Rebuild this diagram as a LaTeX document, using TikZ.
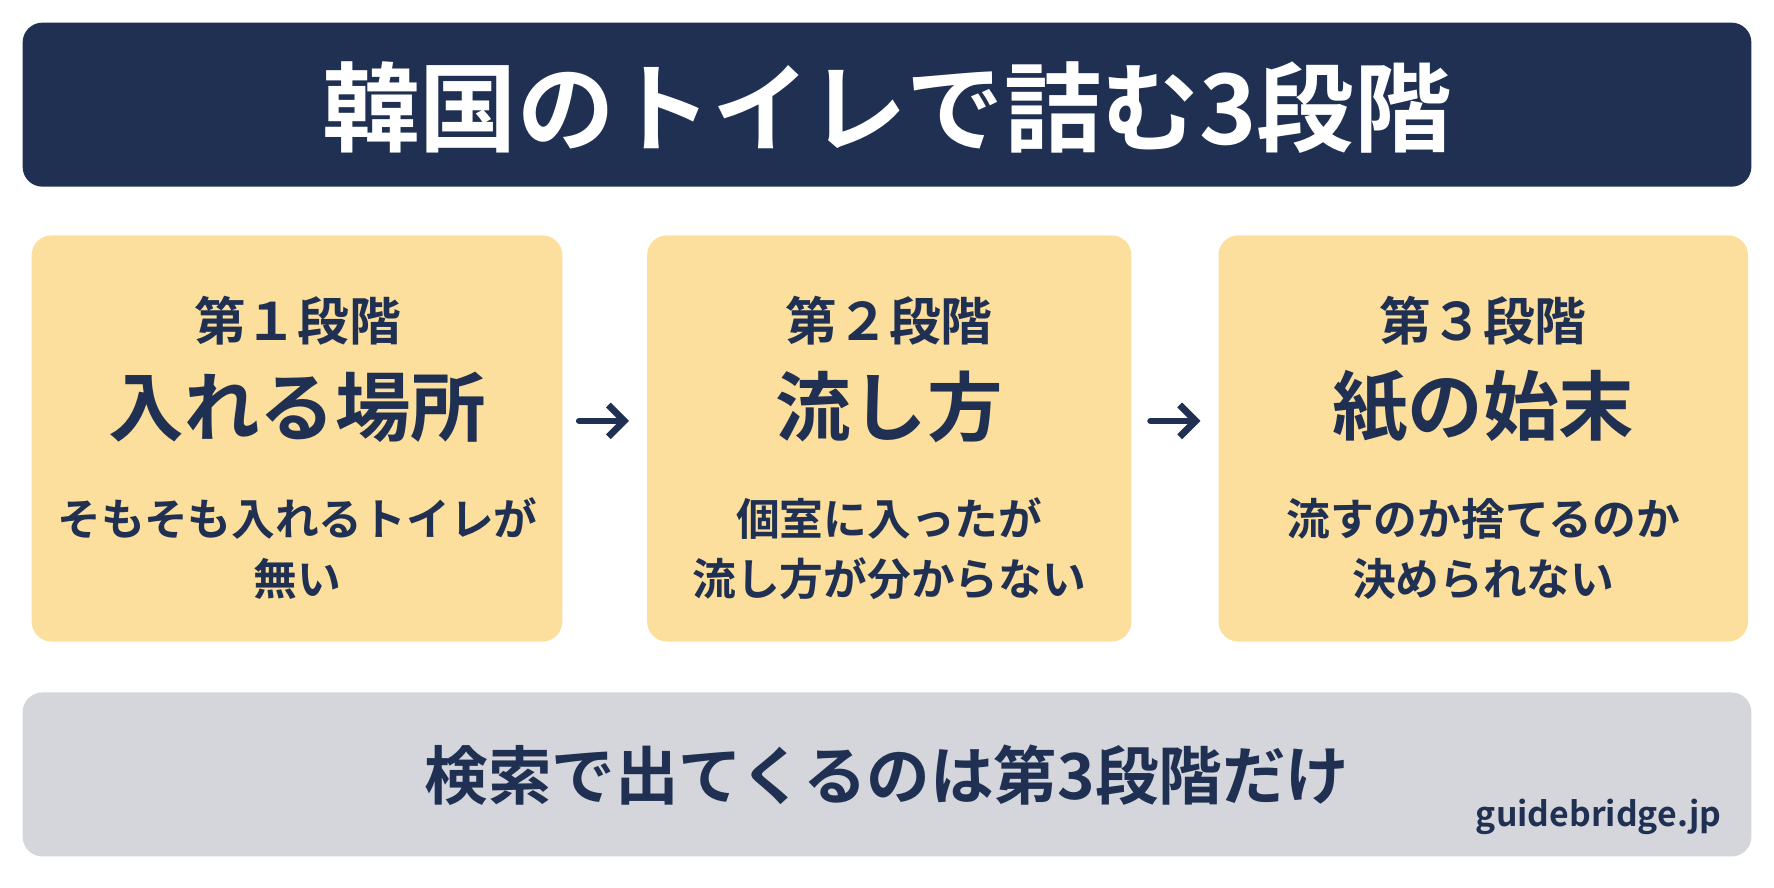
\documentclass[tikz,border=0pt]{standalone}
\usetikzlibrary{arrows.meta}
\usepackage{fontspec}
\setmainfont{Noto Sans CJK JP}[BoldFont={Noto Sans CJK JP Bold}]
\definecolor{navy}{HTML}{1F3052}
\definecolor{card}{HTML}{FCDF9C}
\definecolor{bar}{HTML}{D4D6DC}
\begin{document}
\begin{tikzpicture}[x=1cm,y=-1cm,
  fs/.style={font=\fontsize{#1}{#1}\selectfont\bfseries},
  cardbox/.style={fill=card,rounded corners=5pt,draw=none},
  stagelbl/.style={fs=13pt,text=navy},
  head/.style={fs=19pt,text=navy},
  desc/.style={text=navy,align=center,font=\fontsize{11pt}{15pt}\selectfont\bfseries},
  arr/.style={-{Straight Barb[length=4pt,width=8pt,line width=1.7pt]},line width=1.7pt,navy,line cap=round}]
\useasboundingbox[fill=white] (0,0) rectangle (15.68,7.84);
\fill[navy,rounded corners=5pt] (0.2,0.2) rectangle (15.48,1.65);
\node[fs=24.5pt,text=white] (title) at (7.84,0.95) {韓国のトイレで詰む3段階};
\fill[cardbox] (0.28,2.08) rectangle (4.97,5.67);
\fill[cardbox] (5.72,2.08) rectangle (10.0,5.67);
\fill[cardbox] (10.77,2.08) rectangle (15.45,5.67);
\node[stagelbl] (s1) at (2.63,2.83) {第１段階};
\node[head] (h1) at (2.63,3.6) {入れる場所};
\node[desc] (d1) at (2.63,4.85) {そもそも入れるトイレが\\無い};
\node[stagelbl] (s2) at (7.86,2.83) {第２段階};
\node[head] (h2) at (7.86,3.6) {流し方};
\node[desc] (d2) at (7.86,4.85) {個室に入ったが\\流し方が分からない};
\node[stagelbl] (s3) at (13.11,2.83) {第３段階};
\node[head] (h3) at (13.11,3.6) {紙の始末};
\node[desc] (d3) at (13.11,4.85) {流すのか捨てるのか\\決められない};
\coordinate (a1s) at (5.12,3.72); \coordinate (a1e) at (5.56,3.72);
\coordinate (a2s) at (10.17,3.72); \coordinate (a2e) at (10.61,3.72);
\draw[arr] (a1s) -- (a1e);
\draw[arr] (a2s) -- (a2e);
\fill[bar,rounded corners=5pt] (0.2,6.12) rectangle (15.48,7.57);
\node[fs=16pt,text=navy] (foot) at (7.84,6.85) {検索で出てくるのは第3段階だけ};
\node[fs=8.5pt,text=navy] (brand) at (14.13,7.22) {guidebridge.jp};
\end{tikzpicture}
\end{document}
